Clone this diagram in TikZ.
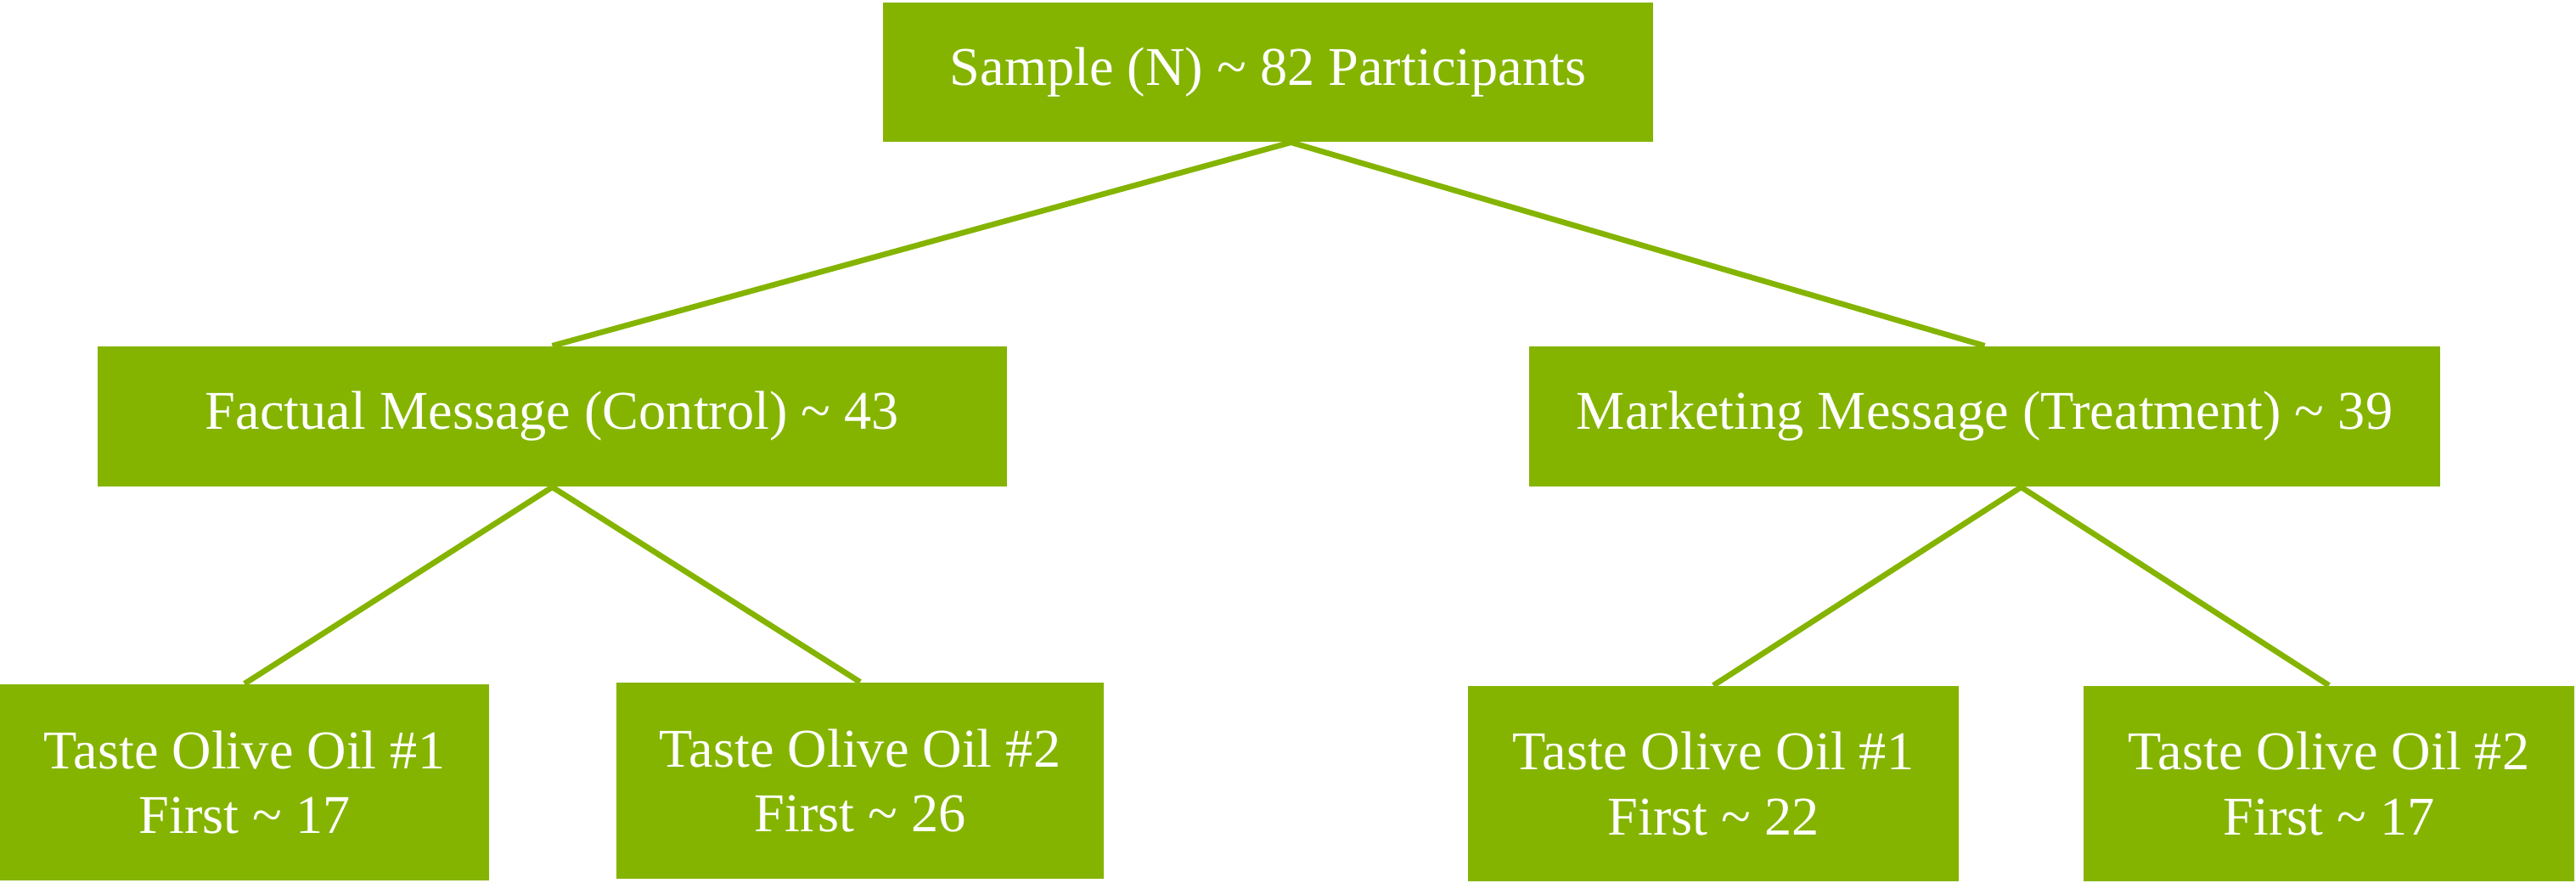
\documentclass[tikz,border=0pt]{standalone}
\usepackage{fontspec}
\setmainfont{Liberation Serif}
\definecolor{olive}{HTML}{84B400}
\begin{document}
\begin{tikzpicture}[
  box/.style={fill=olive, draw=none, text=white, inner sep=0pt, align=center,
    font=\fontsize{18.3}{21.8}\selectfont},
  link/.style={draw=olive, line width=1.9pt}
]
\useasboundingbox (0,0) rectangle (30.34,-10.40);
\node[box, minimum width=9.07cm, minimum height=1.64cm] (top) at (14.935,-0.85) {Sample (N) \textasciitilde{} 82 Participants};
\node[box, minimum width=10.71cm, minimum height=1.65cm] (fac) at (6.505,-4.905) {Factual Message (Control) \textasciitilde{} 43};
\node[box, minimum width=10.73cm, minimum height=1.65cm] (mkt) at (23.375,-4.905) {Marketing Message (Treatment) \textasciitilde{} 39};
\node[box, minimum width=5.76cm, minimum height=2.31cm] (b1) at (2.88,-9.215) {Taste Olive Oil \#1\\First \textasciitilde{} 17};
\node[box, minimum width=5.74cm, minimum height=2.31cm] (b2) at (10.13,-9.195) {Taste Olive Oil \#2\\First \textasciitilde{} 26};
\node[box, minimum width=5.78cm, minimum height=2.30cm] (b3) at (20.18,-9.23) {Taste Olive Oil \#1\\First \textasciitilde{} 22};
\node[box, minimum width=5.78cm, minimum height=2.30cm] (b4) at (27.43,-9.23) {Taste Olive Oil \#2\\First \textasciitilde{} 17};
\draw[link] (fac.north) -- ([xshift=0.27cm]top.south) -- (mkt.north);
\draw[link] (b1.north) -- (fac.south) -- (b2.north);
\draw[link] (b3.north) -- ([xshift=0.43cm]mkt.south) -- (b4.north);
\end{tikzpicture}
\end{document}
